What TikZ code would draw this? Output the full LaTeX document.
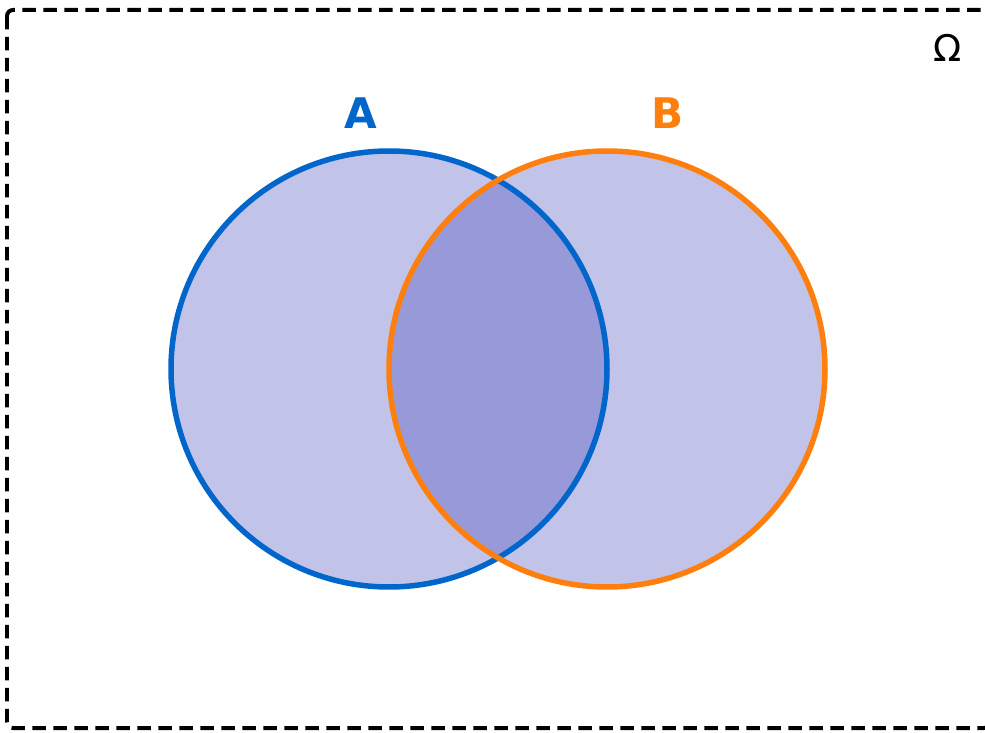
\documentclass[tikz,border=0pt]{standalone}
\usepackage{fontspec}
\setmainfont{DejaVu Sans}
\usetikzlibrary{positioning}
\definecolor{setblue}{HTML}{0066CC}
\definecolor{setorange}{HTML}{FF7F0E}
\definecolor{setfill}{HTML}{3539B4}

\begin{document}
\begin{tikzpicture}[
  x=0.02cm, y=-0.02cm,
  universe/.style={draw=black, dashed, dash pattern=on 0.27cm off 0.15cm, line width=0.08cm, rounded corners=0.12cm},
  region/.style={fill=setfill, fill opacity=0.3},
  rim/.style={line width=0.11cm},
  setlabel/.style={font=\fontsize{24}{26}\selectfont\bfseries, inner sep=0pt}
]
  \useasboundingbox (0,0) rectangle (985,733);
  \draw[universe] (7,10) rectangle (990,728);
  \node[font=\fontsize{21}{24}\selectfont, inner sep=0pt] (omega) at (948,48) {Ω};

  \coordinate (cA) at (389,369);
  \coordinate (cB) at (607,369);

  \fill[region] (cA) circle[radius=218];
  \fill[region] (cB) circle[radius=218];
  \draw[rim, setblue] (cA) circle[radius=218];
  \draw[rim, setorange] (cB) circle[radius=218];

  \node[setlabel, text=setblue] (labelA) at (361,113) {A};
  \node[setlabel, text=setorange] (labelB) at (668,113) {B};
\end{tikzpicture}
\end{document}
